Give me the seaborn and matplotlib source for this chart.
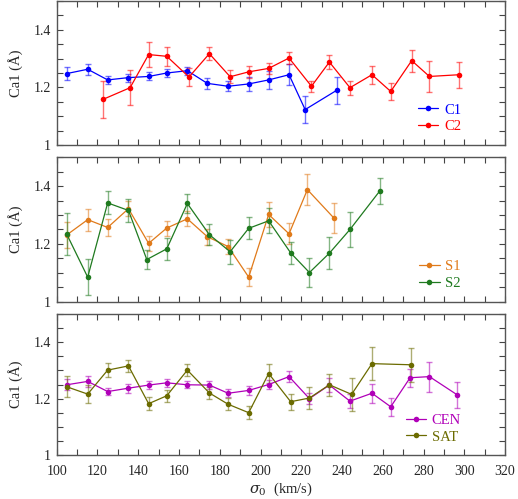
"""Ca1 index vs central velocity dispersion for three galaxy sample splits
(C1/C2, S1/S2, CEN/SAT), stacked panels sharing the sigma_0 axis."""
import matplotlib
matplotlib.use("Agg")
import matplotlib.pyplot as plt
from matplotlib.ticker import MultipleLocator, FuncFormatter
import pandas as pd
import seaborn as sns

# --- panel 1 ---
c1_x = [104.9, 115.2, 125.0, 135.2, 145.1, 154.0, 164.1, 173.9, 184.1, 194.2, 204.0, 214.0, 221.9, 237.4]
c1_y = [1.248, 1.263, 1.226, 1.234, 1.238, 1.250, 1.258, 1.214, 1.204, 1.212, 1.226, 1.244, 1.123, 1.190]
c1_err = [0.024, 0.019, 0.014, 0.014, 0.014, 0.014, 0.014, 0.018, 0.018, 0.024, 0.030, 0.037, 0.046, 0.046]

c2_x = [122.9, 136.0, 145.1, 154.0, 164.9, 174.9, 185.1, 194.2, 204.0, 214.0, 225.0, 233.8, 243.9, 254.7,
        263.9, 274.2, 282.9, 297.4]
c2_y = [1.159, 1.199, 1.314, 1.308, 1.236, 1.317, 1.237, 1.254, 1.266, 1.302, 1.204, 1.288, 1.199, 1.244,
        1.186, 1.293, 1.238, 1.244]
c2_err = [0.064, 0.061, 0.042, 0.034, 0.030, 0.023, 0.022, 0.021, 0.018, 0.022, 0.019, 0.023, 0.024, 0.032,
          0.031, 0.038, 0.054, 0.045]

# --- panel 2 ---
s1_x = [104.9, 115.2, 125.0, 135.2, 145.1, 154.0, 164.1, 173.9, 184.1, 194.2, 204.0, 214.0, 223.0, 236.1]
s1_y = [1.231, 1.284, 1.257, 1.322, 1.202, 1.255, 1.287, 1.225, 1.191, 1.085, 1.302, 1.235, 1.388, 1.289]
s1_err = [0.044, 0.038, 0.028, 0.027, 0.026, 0.026, 0.026, 0.028, 0.026, 0.032, 0.044, 0.036, 0.054, 0.051]

s2_x = [104.9, 115.2, 125.0, 135.2, 144.2, 154.0, 164.1, 174.9, 185.1, 194.2, 204.0, 214.8, 224.0, 233.8,
        243.9, 258.6]
s2_y = [1.234, 1.085, 1.342, 1.316, 1.146, 1.183, 1.340, 1.232, 1.173, 1.254, 1.280, 1.169, 1.101, 1.168,
        1.250, 1.384]
s2_err = [0.072, 0.063, 0.040, 0.039, 0.034, 0.038, 0.033, 0.037, 0.041, 0.038, 0.043, 0.039, 0.051, 0.056,
          0.061, 0.045]

# --- panel 3 ---
cen_x = [104.9, 115.2, 125.0, 135.2, 145.1, 154.0, 164.1, 174.9, 184.1, 194.2, 204.0, 214.0, 224.0, 233.8,
         243.9, 254.7, 263.9, 273.4, 282.9, 296.6]
cen_y = [1.249, 1.261, 1.225, 1.237, 1.248, 1.256, 1.249, 1.248, 1.219, 1.229, 1.250, 1.278, 1.200, 1.248,
         1.191, 1.219, 1.171, 1.274, 1.278, 1.213]
cen_err = [0.020, 0.020, 0.013, 0.016, 0.014, 0.014, 0.013, 0.015, 0.014, 0.017, 0.016, 0.020, 0.020, 0.024,
           0.024, 0.034, 0.032, 0.032, 0.053, 0.045]

sat_x = [104.9, 115.2, 125.0, 135.2, 145.1, 154.0, 164.1, 174.9, 184.1, 194.2, 204.0, 214.8, 224.0, 233.8,
         244.7, 254.7, 273.7]
sat_y = [1.242, 1.216, 1.301, 1.316, 1.182, 1.210, 1.301, 1.220, 1.180, 1.150, 1.289, 1.189, 1.202, 1.249,
         1.215, 1.324, 1.320]
sat_err = [0.037, 0.032, 0.024, 0.020, 0.022, 0.021, 0.022, 0.021, 0.022, 0.024, 0.034, 0.028, 0.040, 0.040,
           0.059, 0.059, 0.061]

PANELS = [
    [("C1", c1_x, c1_y, c1_err, "#0000ff"), ("C2", c2_x, c2_y, c2_err, "#ff0000")],
    [("S1", s1_x, s1_y, s1_err, "#e07a1a"), ("S2", s2_x, s2_y, s2_err, "#1f7a1f")],
    [("CEN", cen_x, cen_y, cen_err, "#b000b8"), ("SAT", sat_x, sat_y, sat_err, "#6b6b00")],
]

# axes boxes in figure fractions (left, bottom, width, height)
BOXES = [
    (0.1095, 0.7094, 0.8655, 0.2886),
    (0.1095, 0.3954, 0.8655, 0.2894),
    (0.1095, 0.0882, 0.8655, 0.2825),
]

sns.set_style("ticks")
plt.rcParams["font.family"] = ["Liberation Serif", "DejaVu Serif"]
plt.rcParams["mathtext.fontset"] = "dejavuserif"

fig = plt.figure(figsize=(5.18, 4.99), dpi=100)

for i, (series, box) in enumerate(zip(PANELS, BOXES)):
    ax = fig.add_axes(box)
    for name, xs, ys, errs, color in series:
        df = pd.DataFrame({"x": xs, "y": ys, "err": errs})
        ax.errorbar(df["x"], df["y"], yerr=df["err"], fmt="none", ecolor=color,
                    elinewidth=1.0, capsize=2.5, capthick=1.0, alpha=0.55, zorder=2)
        sns.lineplot(data=df, x="x", y="y", ax=ax, color=color, sort=False, estimator=None,
                     marker="o", markersize=4, markeredgewidth=0, linewidth=0.9,
                     label=name, zorder=3)

    ax.set_xlim(100, 320)
    ax.set_ylim(1.0, 1.5)
    ax.xaxis.set_major_locator(MultipleLocator(20))
    ax.xaxis.set_minor_locator(MultipleLocator(10))
    ax.yaxis.set_major_locator(MultipleLocator(0.2))
    ax.yaxis.set_minor_locator(MultipleLocator(0.05))
    ax.yaxis.set_major_formatter(FuncFormatter(lambda v, _: f"{v:g}"))
    ax.tick_params(which="both", direction="in", top=True, right=True, length=4,
                   width=0.8, color="#444444", labelsize=10, pad=4)
    ax.tick_params(axis="x", pad=7)
    for sp in ax.spines.values():
        sp.set_color("#555555")
        sp.set_linewidth(1.0)

    ax.set_ylabel("Ca1 (Å)", fontsize=10.5, labelpad=8)
    if i < 2:
        ax.tick_params(labelbottom=False)
        ax.set_xlabel("")
    else:
        ax.set_xlabel(r"$\sigma_0$  (km/s)", fontsize=10.5, labelpad=2)

    leg = ax.legend(loc="lower right", bbox_to_anchor=(0.915, 0.04), frameon=False,
                    handlelength=1.4, handletextpad=0.4, labelspacing=0.25, fontsize=10.5,
                    borderaxespad=0)
    for txt, (_, _, _, _, color) in zip(leg.get_texts(), series):
        txt.set_color(color)

fig.savefig("out.png", dpi=100)
